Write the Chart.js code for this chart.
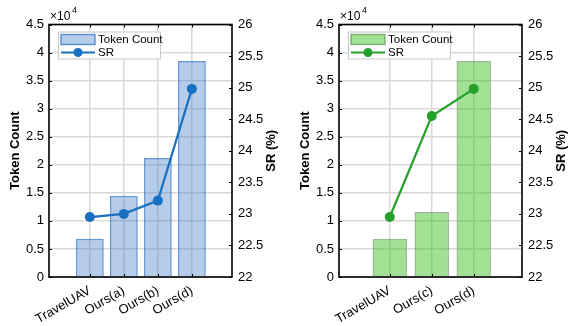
<!DOCTYPE html>
<html>
<head>
<meta charset="utf-8">
<script src="https://cdn.jsdelivr.net/npm/chart.js@4"></script>
<style>
  body { margin: 0; background: #fff; }
  .wrap { position: relative; width: 571px; height: 326px; }
  canvas { position: absolute; top: 0; }
</style>
</head>
<body>
<div class="wrap">
  <canvas id="left" width="281" height="326" style="left:0"></canvas>
  <canvas id="right" width="281" height="326" style="left:290px"></canvas>
</div>
<script>
// values
const leftLabels = ["TravelUAV", "Ours(a)", "Ours(b)", "Ours(d)"];
const leftTokens = [6800, 14500, 21200, 38500];
const leftSR = [22.95, 23.0, 23.21, 24.98];

const rightLabels = ["TravelUAV", "Ours(c)", "Ours(d)"];
const rightTokens = [6800, 11600, 38500];
const rightSR = [22.95, 24.55, 24.98];

const tokenTicks = [0, 5000, 10000, 15000, 20000, 25000, 30000, 35000, 40000, 45000];
const srTicks = [22, 22.5, 23, 23.5, 24, 24.5, 25, 25.5, 26];

Chart.defaults.font.family = "'Liberation Sans', Arial, sans-serif";
Chart.defaults.color = "#000";

// box, inward ticks, x10^4, right title and the legend, drawn Matlab style
const framePlugin = {
  id: "frame",
  afterDraw(chart, args, opts) {
    const ctx = chart.ctx;
    const a = chart.chartArea;
    const x = chart.scales.x, y = chart.scales.y, y1 = chart.scales.y1;
    ctx.save();
    ctx.strokeStyle = "#000";
    ctx.lineWidth = 1;
    ctx.beginPath();
    tokenTicks.forEach(v => {
      const p = Math.round(y.getPixelForValue(v)) + 0.5;
      ctx.moveTo(a.left, p); ctx.lineTo(a.left + 3, p);
    });
    srTicks.forEach(v => {
      const p = Math.round(y1.getPixelForValue(v)) + 0.5;
      ctx.moveTo(a.right, p); ctx.lineTo(a.right - 3, p);
    });
    opts.labels.forEach((l, i) => {
      const p = Math.round(x.getPixelForValue(i)) + 0.5;
      ctx.moveTo(p, a.bottom); ctx.lineTo(p, a.bottom - 3);
      ctx.moveTo(p, a.top); ctx.lineTo(p, a.top + 3);
    });
    ctx.stroke();
    ctx.lineWidth = 1.6;
    ctx.strokeRect(a.left, a.top, a.right - a.left, a.bottom - a.top);

    // exponent label
    ctx.fillStyle = "#000";
    ctx.textBaseline = "alphabetic";
    ctx.textAlign = "left";
    ctx.font = "12px 'Liberation Sans', Arial, sans-serif";
    ctx.fillText("\u00d710", a.left + 1, a.top - 5);
    ctx.font = "9px 'Liberation Sans', Arial, sans-serif";
    ctx.fillText("4", a.left + 23, a.top - 12);

    // right axis title, reading upwards
    ctx.save();
    ctx.translate(chart.width - 9.5, (a.top + a.bottom) / 2);
    ctx.rotate(-Math.PI / 2);
    ctx.textAlign = "center";
    ctx.textBaseline = "middle";
    ctx.font = "bold 13px 'Liberation Sans', Arial, sans-serif";
    ctx.fillText(opts.rightTitle, 0, 0);
    ctx.restore();

    // legend
    const lx = a.left + 9, ly = a.top + 7;
    ctx.fillStyle = "#fff";
    ctx.fillRect(lx, ly, 102, 27);
    ctx.strokeStyle = "#c8c8c8";
    ctx.lineWidth = 1;
    ctx.strokeRect(lx + 0.5, ly + 0.5, 102, 27);
    const bar = chart.data.datasets[1], line = chart.data.datasets[0];
    ctx.fillStyle = bar.backgroundColor;
    ctx.fillRect(lx + 3, ly + 3, 34, 10);
    ctx.strokeStyle = bar.borderColor;
    ctx.lineWidth = 1.5;
    ctx.strokeRect(lx + 3, ly + 3, 34, 10);
    ctx.strokeStyle = line.borderColor;
    ctx.lineWidth = 2;
    ctx.beginPath();
    ctx.moveTo(lx + 3, ly + 21); ctx.lineTo(lx + 37, ly + 21);
    ctx.stroke();
    ctx.fillStyle = line.borderColor;
    ctx.beginPath();
    ctx.arc(lx + 20, ly + 21, 4.5, 0, Math.PI * 2);
    ctx.fill();
    ctx.fillStyle = "#000";
    ctx.font = "11.5px 'Liberation Sans', Arial, sans-serif";
    ctx.textBaseline = "middle";
    ctx.fillText(bar.label, lx + 40, ly + 8.5);
    ctx.fillText(line.label, lx + 40, ly + 21);
    ctx.restore();
  }
};

function makeChart(id, labels, tokens, sr, xMin, xMax, c) {
  new Chart(document.getElementById(id), {
    type: "bar",
    data: {
      datasets: [
        {
          type: "line",
          label: "SR",
          data: sr.map((v, i) => ({ x: i, y: v })),
          yAxisID: "y1",
          borderColor: c.line,
          backgroundColor: c.line,
          borderWidth: 2.2,
          pointRadius: 5,
          pointBackgroundColor: c.line,
          pointBorderWidth: 0,
          order: 0
        },
        {
          label: "Token Count",
          data: tokens.map((v, i) => ({ x: i, y: v })),
          yAxisID: "y",
          backgroundColor: c.fill,
          borderColor: c.border,
          borderWidth: 1.5,
          barPercentage: 0.82,
          categoryPercentage: 1,
          order: 1
        }
      ]
    },
    options: {
      responsive: false,
      animation: false,
      layout: { padding: { top: 24.5, left: 0, right: 0, bottom: 0 } },
      plugins: {
        legend: { display: false },
        tooltip: { enabled: false },
        frame: { labels: labels, rightTitle: "SR (%)" }
      },
      scales: {
        x: {
          type: "linear",
          offset: false,
          min: xMin,
          max: xMax,
          afterBuildTicks: s => { s.ticks = labels.map((l, i) => ({ value: i })); },
          afterFit: s => { s.height = 49; },
          grid: { color: "#d9d9d9", lineWidth: 1.5, drawTicks: false, offset: false },
          border: { display: false },
          ticks: {
            autoSkip: false,
            minRotation: 30,
            maxRotation: 30,
            padding: 6,
            font: { size: 13 },
            callback: v => labels[v]
          }
        },
        y: {
          position: "left",
          min: 0,
          max: 45000,
          afterBuildTicks: s => { s.ticks = tokenTicks.map(v => ({ value: v })); },
          afterFit: s => { s.width = 49; },
          grid: { color: "#d9d9d9", lineWidth: 1.5, drawTicks: false },
          border: { display: false },
          ticks: { padding: 5, font: { size: 13 }, callback: v => String(v / 10000) },
          title: { display: true, text: "Token Count", font: { size: 13, weight: "bold" }, padding: { top: 8, bottom: 0 } }
        },
        y1: {
          position: "right",
          min: 22,
          max: 26,
          afterBuildTicks: s => { s.ticks = srTicks.map(v => ({ value: v })); },
          afterFit: s => { s.width = 49; },
          grid: { drawOnChartArea: false, drawTicks: false },
          border: { display: false },
          ticks: { padding: 6, font: { size: 13 }, callback: v => String(v) }
        }
      }
    },
    plugins: [framePlugin]
  });
}

makeChart("left", leftLabels, leftTokens, leftSR, -1.2, 4.18, {
  fill: "rgba(60,120,200,0.38)",
  border: "rgba(40,110,200,0.7)",
  line: "rgb(24,112,190)"
});
makeChart("right", rightLabels, rightTokens, rightSR, -1.21, 3.15, {
  fill: "rgba(60,190,30,0.48)",
  border: "rgba(70,130,60,0.55)",
  line: "rgb(38,160,42)"
});
</script>
</body>
</html>
